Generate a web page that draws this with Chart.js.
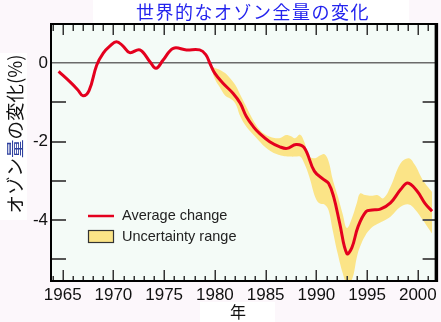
<!DOCTYPE html>
<html lang="ja">
<head>
<meta charset="UTF-8">
<title>世界的なオゾン全量の変化</title>
<script src="https://cdn.jsdelivr.net/npm/chart.js"></script>
<style>
  html, body { margin: 0; padding: 0; background: #fcf7fb; }
  #wrap { width: 441px; height: 322px; }
</style>
</head>
<body>
<div id="wrap"><canvas id="ozoneChart" width="441" height="322"></canvas></div>
<script>
// average change of total ozone (%)
const avgYears = [1964.6, 1965.7, 1966.5, 1967.0, 1967.6, 1968.35, 1969.0, 1969.7, 1970.3, 1970.9,
  1971.6, 1972.6, 1973.6, 1974.2, 1974.9, 1975.9, 1977.2, 1978.5, 1979.1, 1979.5,
  1980.0, 1980.8, 1981.8, 1982.5, 1983.1, 1983.8, 1984.4, 1985.4, 1986.4, 1987.1,
  1988.0, 1988.8, 1989.8, 1990.7, 1991.2, 1991.7, 1992.3, 1993.0, 1993.5, 1994.1,
  1994.9, 1995.5, 1996.3, 1997.3, 1998.3, 1999.0, 1999.9, 2000.7, 2001.4];
const avgChange = [-0.21, -0.47, -0.68, -0.83, -0.70, -0.05, 0.26, 0.45, 0.55, 0.45,
  0.27, 0.34, 0.04, -0.13, 0.08, 0.38, 0.34, 0.34, 0.22, 0.0,
  -0.26, -0.51, -0.77, -1.02, -1.36, -1.62, -1.79, -2.0, -2.13, -2.17,
  -2.07, -2.15, -2.75, -2.96, -3.06, -3.40, -4.08, -4.85, -4.70, -4.17,
  -3.78, -3.74, -3.72, -3.56, -3.22, -3.05, -3.25, -3.57, -3.77];

// uncertainty range (upper / lower edge, %)
const bandYears = [1979.7, 1980.0, 1980.5, 1981.0, 1981.5, 1982.0, 1982.5, 1983.0, 1983.5, 1984.0,
  1984.5, 1985.0, 1985.5, 1986.0, 1986.5, 1987.0, 1987.5, 1987.9, 1988.4, 1988.8,
  1989.3, 1989.9, 1990.3, 1990.8, 1991.2, 1991.6, 1992.1, 1992.6, 1993.0, 1993.5,
  1994.0, 1994.3, 1994.8, 1995.4, 1996.0, 1996.6, 1997.3, 1998.3, 1999.1, 1999.7,
  2000.5, 2001.4];
const bandUpper = [-0.08, -0.12, -0.17, -0.25, -0.38, -0.55, -0.80, -1.06, -1.32, -1.55,
  -1.72, -1.82, -1.88, -1.91, -1.90, -1.83, -1.86, -1.91, -1.82, -2.0,
  -2.38, -2.42, -2.36, -2.32, -2.50, -2.95, -3.38, -3.85, -4.20, -3.95,
  -3.55, -3.32, -3.36, -3.38, -3.36, -3.44, -3.15, -2.55, -2.42, -2.59,
  -2.98, -3.28];
const bandLower = [-0.18, -0.40, -0.62, -0.82, -0.90, -1.02, -1.35, -1.58, -1.74, -1.88,
  -2.02, -2.15, -2.24, -2.31, -2.35, -2.37, -2.38, -2.38, -2.38, -2.55,
  -2.89, -3.42, -3.57, -3.60, -3.75, -4.25, -4.85, -5.35, -5.60, -5.52,
  -4.93, -4.68, -4.40, -4.20, -4.10, -4.02, -3.91, -3.66, -3.60, -3.72,
  -4.00, -4.34];

const xTickYears = [1965, 1970, 1975, 1980, 1985, 1990, 1995, 2000];
const yTickValues = [0, -2, -4];

const toPoints = (xs, ys) => xs.map((x, i) => ({ x: x, y: ys[i] }));

const LABEL_FONT = "'Liberation Sans', Arial, sans-serif";
const JP_FONT = "'Noto Sans CJK JP', 'Noto Sans', sans-serif";

// page background, white boxes behind the texts, plot background
const backdrop = {
  id: 'backdrop',
  beforeDraw(chart) {
    const { ctx, chartArea: a } = chart;
    ctx.save();
    ctx.fillStyle = '#fcf7fb';
    ctx.fillRect(0, 0, chart.width, chart.height);
    ctx.fillStyle = '#ffffff';
    ctx.fillRect(93, 0, 316, 23);
    ctx.fillRect(0, 53, 27, 167);
    ctx.fillRect(200, 302, 75, 20);
    ctx.fillStyle = '#f4fbf7';
    ctx.fillRect(a.left, a.top, a.right - a.left, a.bottom - a.top);
    ctx.restore();
  }
};

// frame and tick marks on all four sides
const frameTicks = {
  id: 'frameTicks',
  afterDatasetsDraw(chart) {
    const { ctx, chartArea: a, scales: { x, y } } = chart;
    ctx.save();
    ctx.strokeStyle = '#555';
    ctx.lineWidth = 2;
    ctx.beginPath();
    for (let v = -1; v >= -5; v--) {
      const py = Math.round(y.getPixelForValue(v));
      ctx.moveTo(a.left, py); ctx.lineTo(a.left + 15, py);
      ctx.moveTo(a.right - 13, py); ctx.lineTo(a.right, py);
    }
    ctx.stroke();

    ctx.strokeStyle = '#333';
    ctx.lineWidth = 1.5;
    ctx.beginPath();
    for (let yr = 1964; yr <= 2001; yr++) {
      const px = Math.round(x.getPixelForValue(yr)) + 0.25;
      const major = yr % 5 === 0;
      ctx.moveTo(px, a.bottom); ctx.lineTo(px, a.bottom - (major ? 11 : 5));
      ctx.moveTo(px, a.top); ctx.lineTo(px, a.top + (major ? 11 : 7));
    }
    ctx.stroke();

    ctx.strokeStyle = '#000';
    ctx.lineWidth = 2;
    ctx.strokeRect(a.left, a.top, a.right - a.left, a.bottom - a.top);
    ctx.lineWidth = 3;
    ctx.beginPath();
    ctx.moveTo(a.right + 1, a.top - 1);
    ctx.lineTo(a.right + 1, a.bottom + 1);
    ctx.stroke();
    ctx.restore();
  }
};

// title, axis titles and legend
const texts = {
  id: 'texts',
  afterDraw(chart) {
    const { ctx } = chart;
    const ds = chart.data.datasets;
    ctx.save();

    ctx.fillStyle = '#2323ee';
    ctx.font = '18px ' + JP_FONT;
    ctx.letterSpacing = '1.5px';
    ctx.textAlign = 'center';
    ctx.textBaseline = 'middle';
    ctx.fillText('世界的なオゾン全量の変化', 253, 12);
    ctx.letterSpacing = '0px';

    ctx.fillStyle = '#111';
    ctx.font = '16px ' + JP_FONT;
    ctx.fillText('年', 238, 312);

    // y-axis title, rotated, with 量 in blue
    const parts = [['オゾン', '#111'], ['量', '#2d3f9e'], ['の変化(%)', '#111']];
    ctx.font = '18.5px ' + JP_FONT;
    const total = parts.reduce((s, p) => s + ctx.measureText(p[0]).width, 0);
    ctx.translate(15, 134);
    ctx.rotate(-Math.PI / 2);
    ctx.textAlign = 'left';
    let cx = -total / 2;
    for (const [t, c] of parts) {
      ctx.fillStyle = c;
      ctx.fillText(t, cx, 0);
      cx += ctx.measureText(t).width;
    }
    ctx.setTransform(1, 0, 0, 1, 0, 0);

    // legend
    ctx.font = '14.5px ' + LABEL_FONT;
    ctx.textAlign = 'left';
    ctx.strokeStyle = ds[0].borderColor;
    ctx.lineWidth = 2.5;
    ctx.beginPath();
    ctx.moveTo(88, 216); ctx.lineTo(114, 216);
    ctx.stroke();
    ctx.fillStyle = '#222';
    ctx.fillText(ds[0].label, 122, 216);

    ctx.fillStyle = ds[1].backgroundColor;
    ctx.fillRect(88.5, 230.5, 25, 12);
    ctx.strokeStyle = '#333';
    ctx.lineWidth = 1.2;
    ctx.strokeRect(88.5, 230.5, 25, 12);
    ctx.fillStyle = '#222';
    ctx.fillText(ds[1].label, 122, 236.5);
    ctx.restore();
  }
};

new Chart(document.getElementById('ozoneChart'), {
  type: 'line',
  data: {
    datasets: [
      {
        label: 'Average change',
        data: toPoints(avgYears, avgChange),
        borderColor: '#e4001e',
        borderWidth: 3,
        pointRadius: 0,
        tension: 0.4,
        fill: false
      },
      {
        label: 'Uncertainty range',
        data: toPoints(bandYears, bandUpper),
        borderColor: 'rgba(0,0,0,0)',
        backgroundColor: '#fbe487',
        borderWidth: 0,
        pointRadius: 0,
        tension: 0.4,
        fill: '+1'
      },
      {
        label: 'lower',
        data: toPoints(bandYears, bandLower),
        borderColor: 'rgba(0,0,0,0)',
        borderWidth: 0,
        pointRadius: 0,
        tension: 0.4,
        fill: false
      }
    ]
  },
  options: {
    responsive: false,
    animation: false,
    devicePixelRatio: 1,
    layout: { padding: { top: 24, right: 5, left: 0, bottom: 0 } },
    plugins: { legend: { display: false }, tooltip: { enabled: false } },
    scales: {
      x: {
        type: 'linear',
        min: 1963.85,
        max: 2001.75,
        afterFit: s => { s.height = 41; },
        afterBuildTicks: s => { s.ticks = xTickYears.map(v => ({ value: v })); },
        ticks: {
          padding: 4,
          maxRotation: 0,
          color: '#111',
          font: { family: LABEL_FONT, size: 17 },
          callback: v => String(v)
        },
        grid: { display: false, drawTicks: false },
        border: { display: false }
      },
      y: {
        type: 'linear',
        min: -5.55,
        max: 1.0,
        afterFit: s => { s.width = 51; },
        afterBuildTicks: s => { s.ticks = yTickValues.map(v => ({ value: v })); },
        ticks: {
          padding: 3,
          color: '#111',
          font: { family: LABEL_FONT, size: 17 },
          callback: v => String(v)
        },
        grid: {
          drawTicks: false,
          lineWidth: 1.5,
          color: c => (c.tick && c.tick.value === 0 ? '#6b6b6b' : 'rgba(0,0,0,0)')
        },
        border: { display: false }
      }
    }
  },
  plugins: [backdrop, frameTicks, texts]
});
</script>
</body>
</html>
